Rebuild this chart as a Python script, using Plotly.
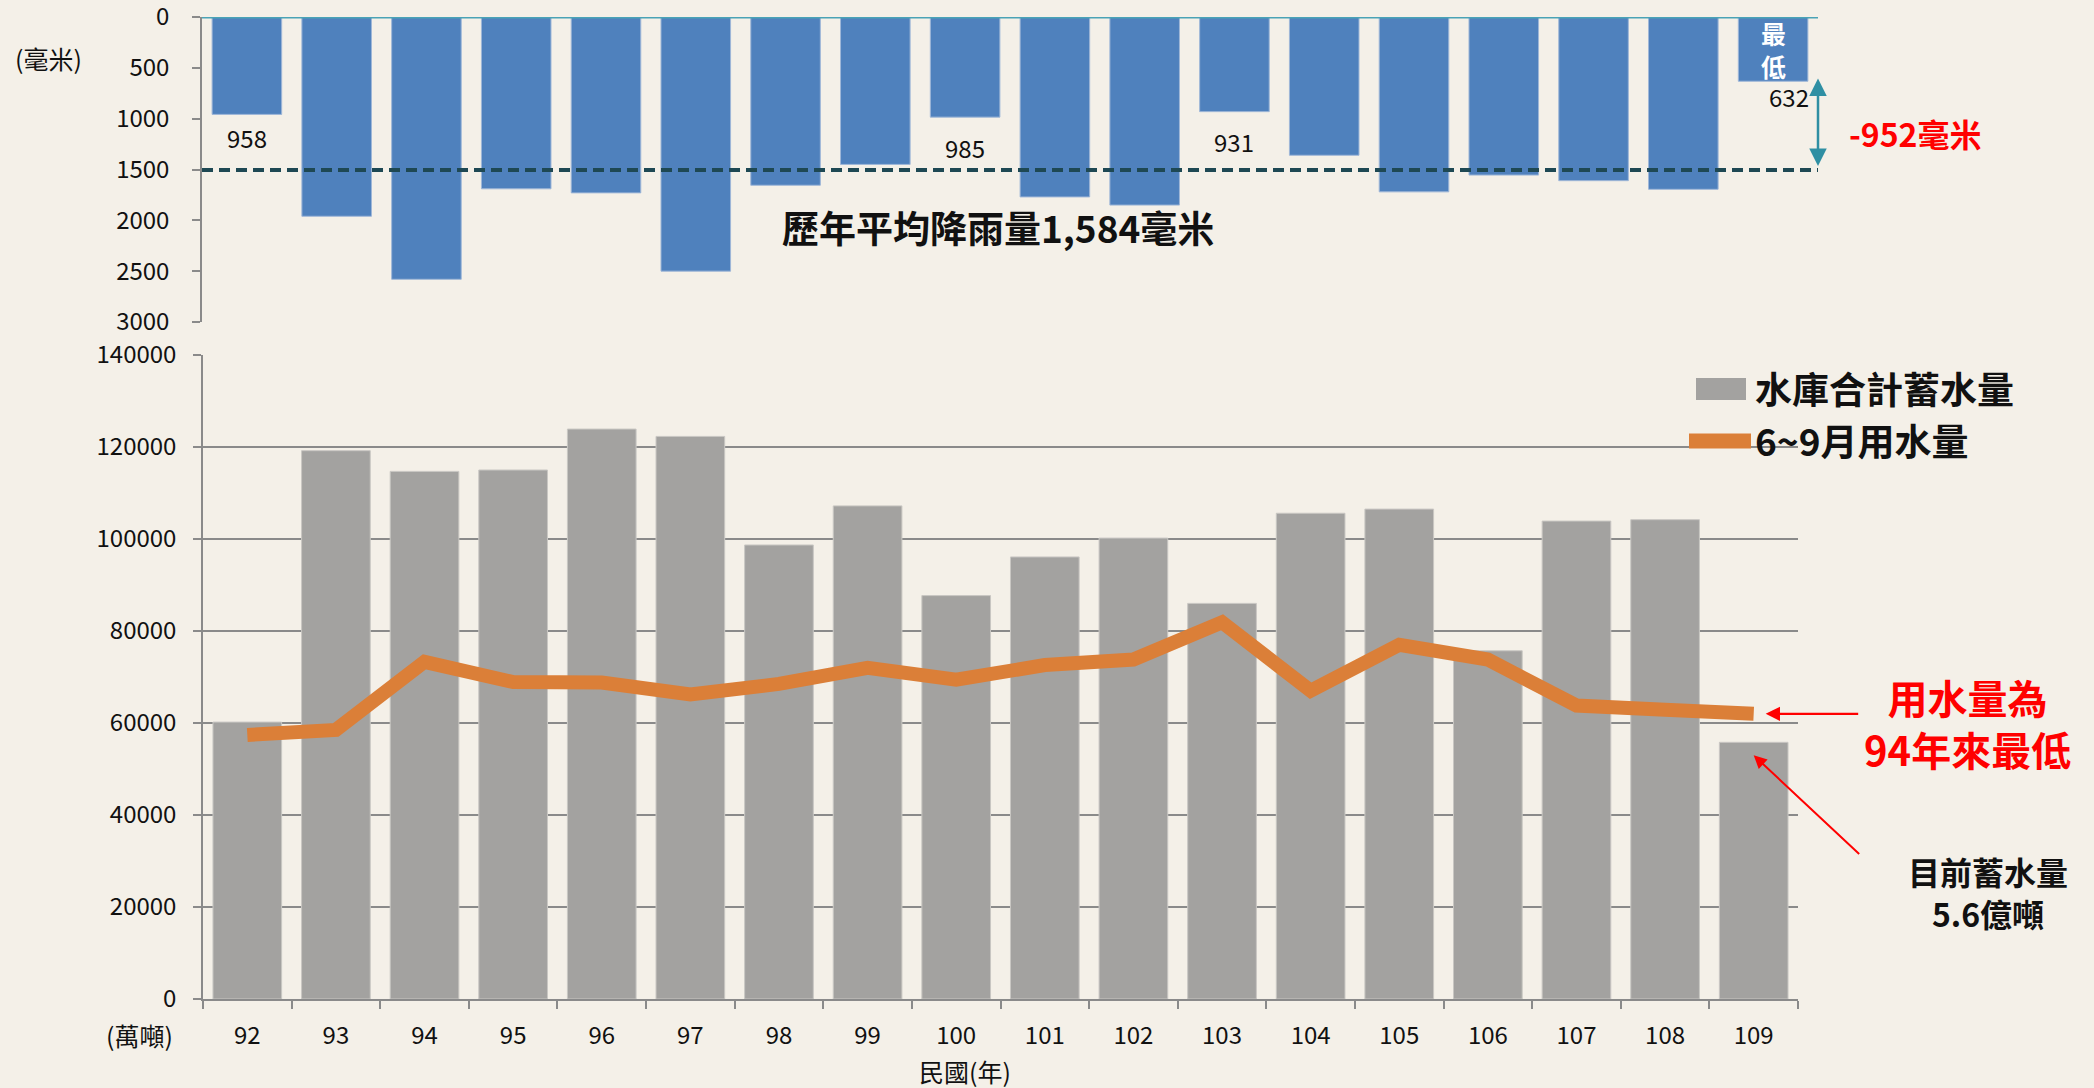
import plotly.graph_objects as go

# ---------------- data ----------------
years = ['92', '93', '94', '95', '96', '97', '98', '99', '100', '101',
         '102', '103', '104', '105', '106', '107', '108', '109']
rainfall = [958, 1960, 2580, 1690, 1730, 2500, 1655, 1450, 985, 1770,
            1850, 931, 1360, 1720, 1555, 1610, 1695, 632]
storage = [60200, 119200, 114700, 115000, 123900, 122300, 98700, 107200, 87700, 96100,
           100200, 86000, 105600, 106500, 75700, 103900, 104200, 55800]
usage = [57400, 58500, 73300, 68900, 68800, 66200, 68500, 72000, 69400, 72600,
         73800, 81900, 67000, 77000, 73800, 63800, 62900, 62000]
labeled_years = ['92', '100', '103', '109']
avg_rain_level = 1505
avg_rain_text = '歷年平均降雨量1,584毫米'
diff_text = '-952毫米'
storage_name = '水庫合計蓄水量'
usage_name = '6~9月用水量'

BG = '#F4F0E8'
AX = '#8A8A8A'
NUM = 'Liberation Sans Narrow, Arial Narrow, Noto Sans CJK TC, sans-serif'
CJK = 'Noto Sans CJK TC, Noto Sans CJK SC, sans-serif'
W, H = 2094, 1088
LAST = len(years) - 1


def px(x):
    return x / W


def py(y):
    return 1 - y / H


def txt(x, y, text, size, color='#111', family=CJK, xanchor='center', **kw):
    d = dict(x=x, y=y, xref='paper', yref='paper', text=text, showarrow=False,
             xanchor=xanchor, yanchor='middle', font=dict(family=family, size=size, color=color))
    d.update(kw)
    return d


fig = go.Figure()
fig.add_trace(go.Bar(x=years, y=rainfall, xaxis='x', yaxis='y',
                     marker=dict(color='#4F81BD', line=dict(color='#9FB7D8', width=1)),
                     showlegend=False, hoverinfo='skip'))
fig.add_trace(go.Bar(x=years, y=storage, xaxis='x2', yaxis='y2', name=storage_name,
                     marker=dict(color='#A3A2A0', line=dict(color='#C9C7C3', width=1)),
                     showlegend=False, hoverinfo='skip'))
fig.add_trace(go.Scatter(x=years, y=usage, xaxis='x2', yaxis='y2', mode='lines', name=usage_name,
                         line=dict(color='#DB7F38', width=14), showlegend=False, hoverinfo='skip'))

annotations = []
# data labels on top chart (x given as category index)
label_pos = {'92': (0, 137), '100': (0, 147), '103': (0, 142), '109': (16, 96)}
for yr in labeled_years:
    i = years.index(yr)
    xs, yp = label_pos[yr]
    annotations.append(dict(x=i, xref='x', y=py(yp), yref='paper', text=str(rainfall[i]),
                            showarrow=False, xshift=xs, xanchor='center', yanchor='middle',
                            font=dict(family=NUM, size=24, color='#111')))
# 最低 inside the last bar
annotations.append(dict(x=LAST, xref='x', y=py(50), yref='paper', text='<b>最<br>低</b>',
                        showarrow=False, xanchor='center', yanchor='middle',
                        font=dict(family=CJK, size=25, color='white')))
# average text
annotations.append(txt(px(998), py(227), '<b>' + avg_rain_text + '</b>', 37))
# teal double arrow
annotations.append(dict(x=1, xref='x domain', y=1465, yref='y', ax=0, axref='pixel', ay=590, ayref='y',
                        text='', showarrow=True, arrowhead=2, startarrowhead=2, arrowside='end+start',
                        arrowsize=1.4, startarrowsize=1.4, arrowwidth=2.5, arrowcolor='#2F8FA3'))
annotations.append(txt(px(1915), py(133), '<b>' + diff_text + '</b>', 32, color='#FF0000'))
# unit labels
annotations.append(txt(px(48), py(58), '(毫米)', 25))
annotations.append(txt(px(139), py(1035), '(萬噸)', 25))
annotations.append(txt(px(965), py(1071), '民國(年)', 25))
# legend text
annotations.append(txt(px(1753), py(388), '<b>' + storage_name + '</b>', 37, xanchor='left'))
annotations.append(txt(px(1753), py(440), '<b>' + usage_name + '</b>', 37, xanchor='left'))
# red callouts
annotations.append(dict(x=LAST, xref='x2', y=usage[LAST], yref='y2', xshift=12, ax=94, ay=0,
                        text='', showarrow=True, arrowhead=2, arrowsize=1.3, arrowwidth=2.2,
                        arrowcolor='#FF0000'))
annotations.append(txt(px(1967), py(723), '<b>用水量為<br>94年來最低</b>', 40, color='#FF0000'))
annotations.append(dict(x=LAST, xref='x2', y=storage[LAST], yref='y2', yshift=-13, ax=107, ay=100,
                        text='', showarrow=True, arrowhead=2, arrowsize=1.3, arrowwidth=2,
                        arrowcolor='#FF0000'))
annotations.append(txt(px(1988), py(892), '<b>目前蓄水量<br>5.6億噸</b>', 32))

shapes = [
    dict(type='line', xref='x domain', x0=0, x1=1, yref='y', y0=0, y1=0,
         line=dict(color='#4AA3B6', width=3)),
    dict(type='line', xref='x domain', x0=0, x1=1, yref='y', y0=avg_rain_level, y1=avg_rain_level,
         line=dict(color='#1E4853', width=4, dash='11px,6px')),
    # legend symbols
    dict(type='rect', xref='paper', yref='paper', x0=px(1696), x1=px(1746), y0=py(400), y1=py(378),
         fillcolor='#A3A2A0', line=dict(width=0)),
    dict(type='line', xref='paper', yref='paper', x0=px(1689), x1=px(1751), y0=py(441), y1=py(441),
         line=dict(color='#DB7F38', width=15)),
]

fig.update_layout(
    width=W, height=H, autosize=False,
    margin=dict(l=0, r=0, t=0, b=0, pad=0),
    paper_bgcolor=BG, plot_bgcolor=BG,
    bargap=0.225, showlegend=False, hovermode=False,
    xaxis=dict(domain=[px(202), px(1818)], anchor='y', type='category', range=[-0.5, 17.5],
               showticklabels=False, showline=False, showgrid=False, zeroline=False, ticks='',
               automargin=False),
    yaxis=dict(domain=[py(322), py(17)], anchor='x', range=[3000, 0], tick0=0, dtick=500,
               showgrid=False, zeroline=False, showline=True, linecolor=AX, linewidth=1.5,
               ticks='outside', ticklen=8, tickcolor=AX, tickwidth=1.5, tickformat='d',
               tickfont=dict(family=NUM, size=24, color='#111'), ticklabelstandoff=18,
               ticklabeloverflow='allow', automargin=False),
    xaxis2=dict(domain=[px(203), px(1798)], anchor='y2', type='category', range=[-0.5, 17.5],
                showline=True, linecolor=AX, linewidth=2, ticks='outside', tickson='boundaries',
                ticklen=8, tickcolor=AX, tickwidth=1.5, showgrid=False, zeroline=False,
                tickfont=dict(family=NUM, size=24, color='#111'), ticklabelstandoff=14,
                ticklabeloverflow='allow', automargin=False),
    yaxis2=dict(domain=[py(999), py(355)], anchor='x2', range=[0, 140000], tick0=0, dtick=20000,
                showgrid=True, gridcolor=AX, gridwidth=2, zeroline=False, showline=True,
                linecolor=AX, linewidth=1.5, ticks='outside', ticklen=8, tickcolor=AX, tickwidth=1.5,
                tickformat='d', tickfont=dict(family=NUM, size=24, color='#111'),
                ticklabelstandoff=12, ticklabeloverflow='allow', automargin=False),
    annotations=annotations,
    shapes=shapes,
)

fig.write_html("out.html", config={'displayModeBar': False},
               post_script="document.body.style.margin='0';document.body.style.overflow='hidden';")
